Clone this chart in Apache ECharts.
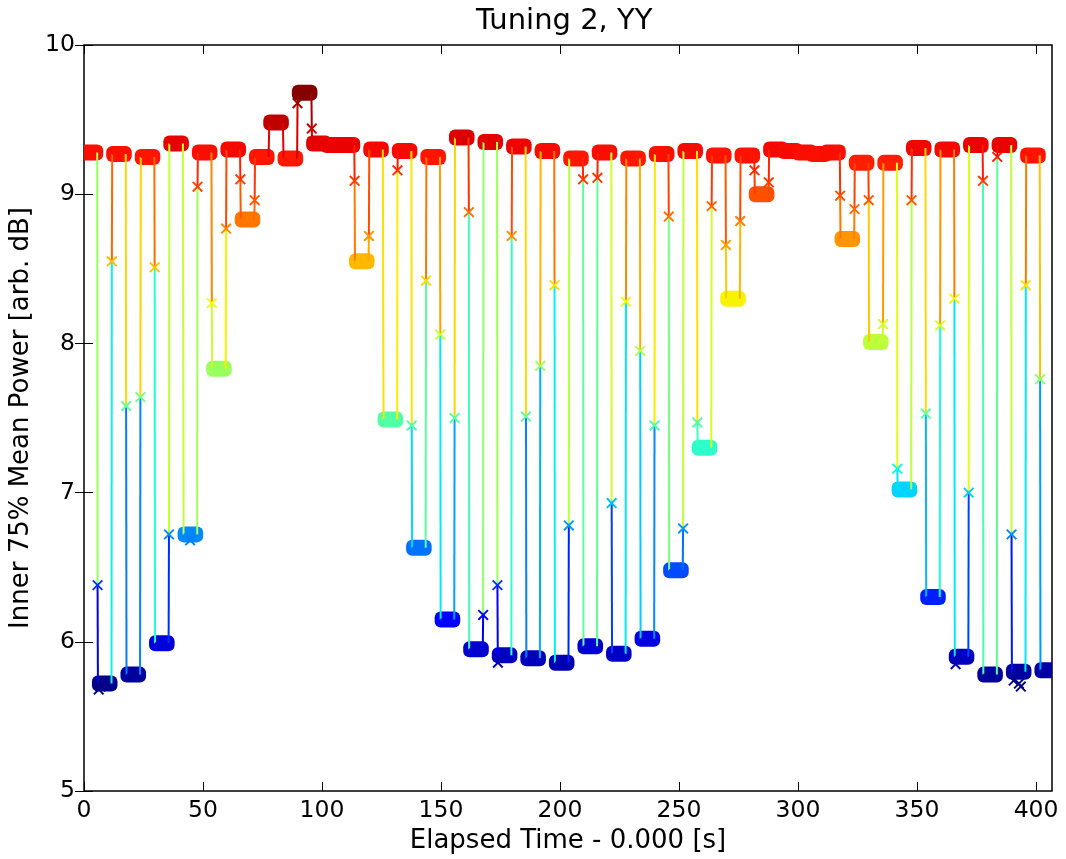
<!DOCTYPE html>
<html><head><meta charset="utf-8">
<script src="https://cdn.jsdelivr.net/npm/echarts@6/dist/echarts.min.js"></script>
<style>html,body{margin:0;padding:0;background:#fff}#c{width:1066px;height:859px}</style>
</head><body><div id="c"></div>
<script>
// ---- data ----
const xTickValues = [0, 50, 100, 150, 200, 250, 300, 350, 400];
const yTickValues = [5, 6, 7, 8, 9, 10];
const timeStart = 0;
const timeEnd = 406.7;
// level of each ~6 s step (plateau), in time order
const plateauLevels = [
  9.28, 5.72, 9.27, 5.78, 9.25, 5.99, 9.34, 6.72, 9.28, 7.83,
  9.30, 8.83, 9.25, 9.48, 9.24, 9.68, 9.34, 9.33, 9.33, 8.55,
  9.30, 7.49, 9.29, 6.63, 9.25, 6.15, 9.38, 5.95, 9.35, 5.91,
  9.32, 5.89, 9.29, 5.86, 9.24, 5.97, 9.28, 5.92, 9.24, 6.02,
  9.27, 6.48, 9.29, 7.30, 9.26, 8.30, 9.26, 9.00, 9.30, 9.29,
  9.28, 9.27, 9.28, 8.70, 9.21, 8.01, 9.21, 7.02, 9.31, 6.30,
  9.30, 5.90, 9.33, 5.78, 9.33, 5.80, 9.26, 5.81
];
// times of the switches between consecutive plateaus
const transitionTimes = [
  5.7, 11.7, 17.7, 23.7, 29.7, 35.7, 41.7, 47.7, 53.7, 59.7,
  65.7, 71.7, 77.7, 83.7, 89.7, 95.7, 101.7, 107.7, 113.7, 119.7,
  125.7, 131.7, 137.7, 143.7, 149.7, 155.7, 161.7, 167.7, 173.7, 179.7,
  185.7, 191.7, 197.7, 203.7, 209.7, 215.7, 221.7, 227.7, 233.7, 239.7,
  245.7, 251.7, 257.7, 263.7, 269.7, 275.7, 281.7, 287.7, 293.7, 299.7,
  305.7, 311.7, 317.7, 323.7, 329.7, 335.7, 341.7, 347.7, 353.7, 359.7,
  365.7, 371.7, 377.7, 383.7, 389.7, 395.7, 401.7
];
// single sample caught mid-switch (null = none)
const transitionValues = [
  6.38, 8.55, 7.58, 7.64, 8.51, 6.72, null, 9.05, 8.27, 8.77,
  9.10, 8.96, null, null, 9.61, 9.44, null, null, 9.09, 8.72,
  null, 9.16, 7.45, 8.42, 8.06, 7.50, 8.88, 6.18, 6.38, 8.72,
  7.51, 7.85, 8.39, 6.78, 9.10, 9.11, 6.93, 8.28, 7.95, 7.45,
  8.85, 6.76, 7.47, 8.92, 8.66, 8.82, 9.16, 9.08, null, null,
  null, null, 8.99, 8.90, 8.96, 8.13, 7.16, 8.96, 7.53, 8.12,
  8.30, 7.00, 9.09, 9.25, 6.72, 8.39, 7.76
];
// a few stray samples sticking out of their plateau
const outlierTimes  = [6.2, 6.9, 44.6, 173.9, 366.2, 390.6, 392.8, 393.6];
const outlierValues = [5.68, 5.70, 6.68, 5.86, 5.85, 5.74, 5.72, 5.70];
const colorMin = 5.68, colorMax = 9.70;

// ---- jet colormap ----
const JR = [[0,0],[0.35,0],[0.66,1],[0.89,1],[1,0.5]];
const JG = [[0,0],[0.125,0],[0.375,1],[0.64,1],[0.91,0],[1,0]];
const JB = [[0,0.5],[0.11,1],[0.34,1],[0.65,0],[1,0]];
function seg(p, x) {
  for (let i = 1; i < p.length; i++) {
    if (x <= p[i][0]) { const a = p[i-1], b = p[i]; return a[1] + (b[1]-a[1]) * (x-a[0]) / (b[0]-a[0]); }
  }
  return p[p.length-1][1];
}
function jet(v) {
  let x = (v - colorMin) / (colorMax - colorMin);
  x = Math.max(0, Math.min(1, x));
  const r = Math.round(255*seg(JR,x)), g = Math.round(255*seg(JG,x)), b = Math.round(255*seg(JB,x));
  return 'rgb(' + r + ',' + g + ',' + b + ')';
}

// ---- build series data ----
const plateaus = [];
const path = [];
const marks = [];
const n = plateauLevels.length;
for (let j = 0; j < n; j++) {
  const s = j === 0 ? timeStart : transitionTimes[j-1] + 0.15;
  const e = j === n-1 ? timeEnd : transitionTimes[j] - 0.15;
  const L = plateauLevels[j];
  plateaus.push([s, e, L]);
  path.push([s, L], [e, L]);
  if (j < n-1 && transitionValues[j] !== null) {
    path.push([transitionTimes[j], transitionValues[j]]);
    marks.push([transitionTimes[j], transitionValues[j]]);
  }
}
for (let i = 0; i < outlierTimes.length; i++) marks.push([outlierTimes[i], outlierValues[i]]);
const segments = [];
for (let i = 1; i < path.length; i++) segments.push([path[i-1][0], path[i-1][1], path[i][0], path[i][1]]);

const FONT = 'DejaVu Sans';
const chart = echarts.init(document.getElementById('c'), null, {renderer: 'canvas'});
const axisCommon = {type: 'value', splitLine: {show: false}, axisLine: {show: false}};
const tickStyle = {color: '#000', width: 1};
chart.setOption({
  backgroundColor: '#fff',
  animation: false,
  title: {
    text: 'Tuning 2, YY', left: 471, top: 2,
    textStyle: {fontFamily: FONT, fontSize: 29, fontWeight: 'normal', color: '#000'}
  },
  grid: {left: 84, right: 14, top: 45, bottom: 66, show: true, borderColor: '#000', borderWidth: 1.5},
  xAxis: [
    Object.assign({}, axisCommon, {
      min: timeStart, max: timeEnd, position: 'bottom',
      name: 'Elapsed Time - 0.000 [s]', nameLocation: 'middle', nameGap: 37,
      nameTextStyle: {fontFamily: FONT, fontSize: 26, color: '#000'},
      axisTick: {show: true, inside: true, length: 9, lineStyle: tickStyle, customValues: xTickValues},
      axisLabel: {fontFamily: FONT, fontSize: 23.5, color: '#000', margin: 8, customValues: xTickValues}
    }),
    Object.assign({}, axisCommon, {
      min: timeStart, max: timeEnd, position: 'top',
      axisTick: {show: true, inside: true, length: 9, lineStyle: tickStyle, customValues: xTickValues},
      axisLabel: {show: false}
    })
  ],
  yAxis: [
    Object.assign({}, axisCommon, {
      min: 5, max: 10, interval: 1, position: 'left',
      name: 'Inner 75% Mean Power [arb. dB]', nameLocation: 'middle', nameGap: 50,
      nameTextStyle: {fontFamily: FONT, fontSize: 26, color: '#000'},
      axisTick: {show: true, inside: true, length: 9, lineStyle: tickStyle, customValues: yTickValues},
      axisLabel: {fontFamily: FONT, fontSize: 23.5, color: '#000', margin: 9, customValues: yTickValues}
    }),
    Object.assign({}, axisCommon, {
      min: 5, max: 10, interval: 1, position: 'right',
      axisTick: {show: true, inside: true, length: 9, lineStyle: tickStyle, customValues: yTickValues},
      axisLabel: {show: false}
    })
  ],
  series: [
    {
      name: 'plateaus', type: 'custom', clip: true, z: 2,
      data: plateaus,
      encode: {x: [0, 1], y: 2},
      renderItem: function (params, api) {
        const L = api.value(2);
        const p0 = api.coord([api.value(0), L]);
        const p1 = api.coord([api.value(1), L]);
        return {
          type: 'rect',
          shape: {x: p0[0] - 6, y: p0[1] - 8, width: (p1[0] - p0[0]) + 12, height: 16, r: 6},
          style: {fill: jet(L)}
        };
      }
    },
    {
      name: 'segments', type: 'custom', clip: true, z: 3,
      data: segments,
      encode: {x: [0, 2], y: [1, 3]},
      renderItem: function (params, api) {
        const p0 = api.coord([api.value(0), api.value(1)]);
        const p1 = api.coord([api.value(2), api.value(3)]);
        return {
          type: 'line',
          shape: {x1: p0[0], y1: p0[1], x2: p1[0], y2: p1[1]},
          style: {stroke: jet((api.value(1) + api.value(3)) / 2), lineWidth: 2}
        };
      }
    },
    {
      name: 'marks', type: 'custom', clip: true, z: 4,
      data: marks,
      encode: {x: 0, y: 1},
      renderItem: function (params, api) {
        const p = api.coord([api.value(0), api.value(1)]);
        const c = jet(api.value(1)), h = 4.8;
        return {
          type: 'group',
          children: [
            {type: 'line', shape: {x1: p[0]-h, y1: p[1]-h, x2: p[0]+h, y2: p[1]+h}, style: {stroke: c, lineWidth: 1.9}},
            {type: 'line', shape: {x1: p[0]-h, y1: p[1]+h, x2: p[0]+h, y2: p[1]-h}, style: {stroke: c, lineWidth: 1.9}}
          ]
        };
      }
    }
  ]
});
</script>
</body></html>
